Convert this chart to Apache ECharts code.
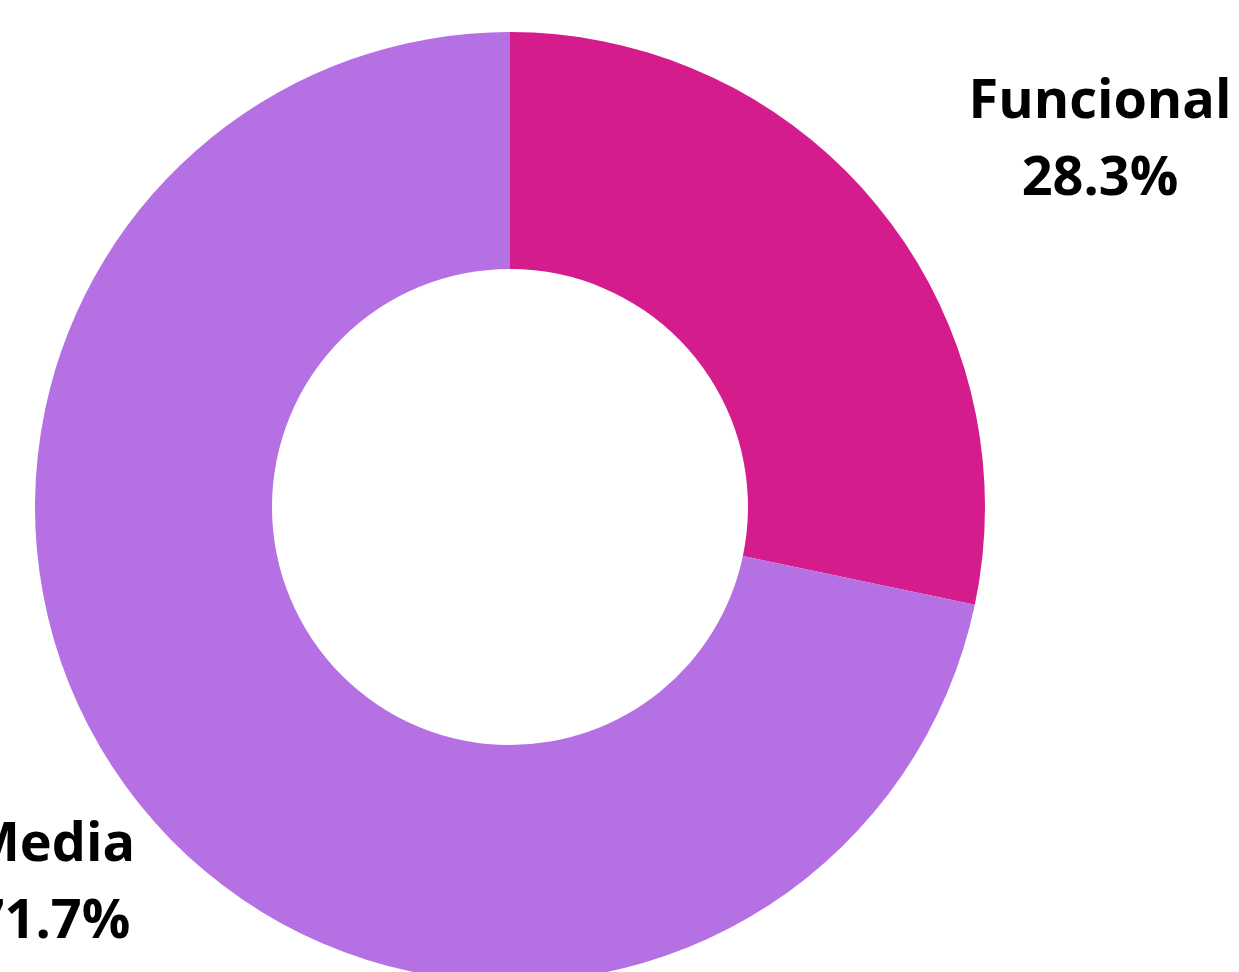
<!DOCTYPE html>
<html>
<head>
<meta charset="utf-8">
<script src="https://cdn.jsdelivr.net/npm/echarts@6/dist/echarts.min.js"></script>
<style>
html,body{margin:0;padding:0;background:#fff;}
#chart{width:1239px;height:972px;}
</style>
</head>
<body>
<div id="chart"></div>
<script>
const categories = ['Funcional', 'Media'];
const values = [28.3, 71.7];
const colors = ['#d41c8c', '#b570e3'];
const labelSpots = [[1100, 141], [52, 884]];

const chart = echarts.init(document.getElementById('chart'), null, {renderer: 'canvas'});
chart.setOption({
  animation: false,
  backgroundColor: '#ffffff',
  series: [{
    type: 'pie',
    center: [510, 507],
    radius: [238, 475],
    startAngle: 90,
    clockwise: true,
    avoidLabelOverlap: false,
    itemStyle: {borderWidth: 0},
    label: {
      show: true,
      position: 'outside',
      formatter: p => p.name + '\n' + p.value.toFixed(1) + '%',
      fontFamily: '"Open Sans", "Noto Sans", sans-serif',
      fontWeight: 'bold',
      fontSize: 54,
      lineHeight: 77,
      color: '#000000',
      align: 'center'
    },
    labelLine: {show: false},
    labelLayout: function (params) {
      const s = labelSpots[params.dataIndex];
      return {x: s[0], y: s[1], align: 'center', verticalAlign: 'middle'};
    },
    data: categories.map((c, i) => ({name: c, value: values[i], itemStyle: {color: colors[i]}}))
  }]
});
</script>
</body>
</html>
